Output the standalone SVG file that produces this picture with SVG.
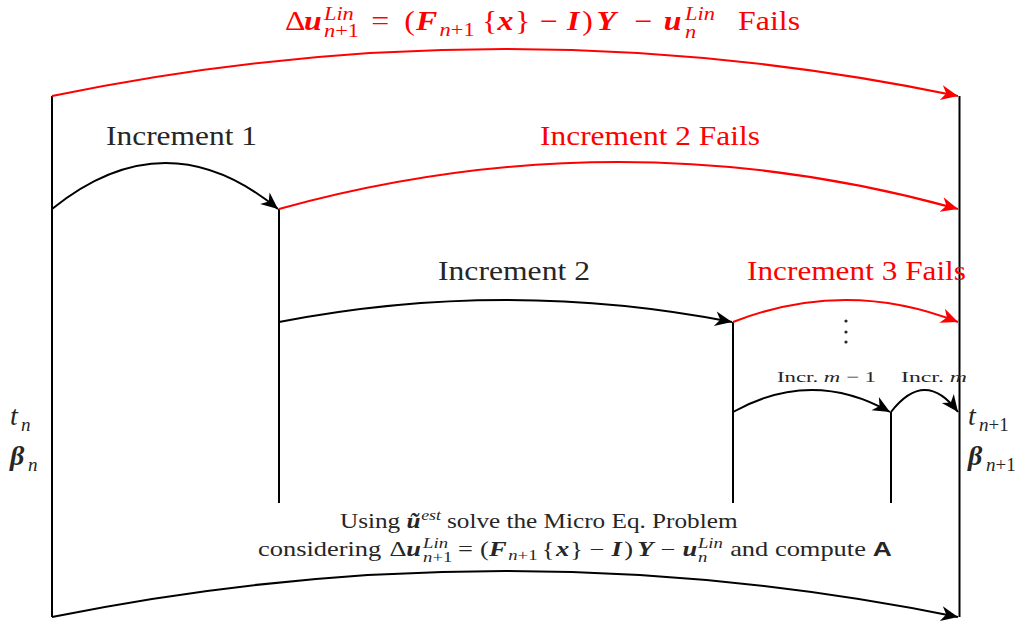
<svg xmlns="http://www.w3.org/2000/svg" width="1029" height="624" viewBox="0 0 1029 624">
<style>
.blk{fill:none;stroke:#000;stroke-width:2}
.red{fill:none;stroke:#f00;stroke-width:2}
.t{font-family:"Liberation Serif","DejaVu Serif",serif;fill:#262626}
.tr{font-family:"Liberation Serif","DejaVu Serif",serif;fill:#f00}
.bi{font-weight:bold;font-style:italic}
.i{font-style:italic}
.s{font-size:19px}
.ss{font-size:14.5px}
</style>
<defs>
<marker id="ab" markerUnits="userSpaceOnUse" markerWidth="20" markerHeight="20" viewBox="-18 -10 20 20" refX="0" refY="0" orient="auto">
<path d="M0,0 L-17,-7.5 L-12,0 L-17,7.5 Z" fill="#000"/>
</marker>
<marker id="ar" markerUnits="userSpaceOnUse" markerWidth="20" markerHeight="20" viewBox="-18 -10 20 20" refX="0" refY="0" orient="auto">
<path d="M0,0 L-17,-7.5 L-12,0 L-17,7.5 Z" fill="#f00"/>
</marker>
</defs>
<rect width="1029" height="624" fill="#fff"/>
<g id="connectors">
<path class="blk" d="M52,96 V617"/>
<path class="blk" d="M959.5,96 V617"/>
<path class="blk" d="M279,209 V503"/>
<path class="blk" d="M733,322 V503"/>
<path class="blk" d="M891,412 V503"/>
<path class="red" d="M52,96 Q505,2 958,96" marker-end="url(#ar)"/>
<path class="blk" d="M52,209 Q166,117 278,209" marker-end="url(#ab)"/>
<path class="red" d="M279,209 Q619,115 958,209" marker-end="url(#ar)"/>
<path class="blk" d="M279,322 Q506,278 732,322" marker-end="url(#ab)"/>
<path class="red" d="M733,322 Q846,278 958,322" marker-end="url(#ar)"/>
<path class="blk" d="M733,412 Q812,368 890,412" marker-end="url(#ab)"/>
<path class="blk" d="M891,412 Q925,368 958,412" marker-end="url(#ab)"/>
<path class="blk" d="M52,617 Q505,525 958,617" marker-end="url(#ab)"/>
</g>
<g id="top-label" transform="matrix(1.18,0,0,1,-51.3,0)">
<text class="tr" font-size="27" y="30"><tspan x="285">Δ</tspan><tspan x="301" class="bi">u</tspan><tspan x="318" y="20" class="i s">Lin</tspan><tspan x="318" y="37" class="s"><tspan class="i">n</tspan>+1</tspan><tspan x="358" y="30">=</tspan><tspan x="386">(</tspan><tspan x="396" class="bi">F</tspan><tspan x="416" y="36" class="s"><tspan class="i">n</tspan>+1</tspan><tspan x="452" y="30">{</tspan><tspan x="465" class="bi">x</tspan><tspan x="480">}</tspan><tspan x="501">−</tspan><tspan x="524" class="bi">I</tspan><tspan x="537">)</tspan><tspan x="549" class="bi">Y</tspan><tspan x="581">−</tspan><tspan x="606" class="bi">u</tspan><tspan x="624" y="38" class="i s">n</tspan><tspan x="624" y="20" class="i s">Lin</tspan><tspan x="669" y="30">Fails</tspan></text>
</g>
<g id="increment1"><text class="t" x="106" y="145" font-size="27" textLength="151" lengthAdjust="spacingAndGlyphs">Increment 1</text></g>
<g id="increment2fails"><text class="tr" x="540" y="145" font-size="27" textLength="220" lengthAdjust="spacingAndGlyphs">Increment 2 Fails</text></g>
<g id="increment2"><text class="t" x="438" y="280" font-size="27" textLength="152" lengthAdjust="spacingAndGlyphs">Increment 2</text></g>
<g id="increment3fails"><text class="tr" x="747" y="280" font-size="27" textLength="219" lengthAdjust="spacingAndGlyphs">Increment 3 Fails</text></g>
<g id="dots" fill="#262626">
<circle cx="846" cy="321" r="1.6"/><circle cx="846" cy="332" r="1.6"/><circle cx="846" cy="342" r="1.6"/>
</g>
<g id="incr-m-1"><text class="t" x="777" y="382" font-size="15" textLength="99" lengthAdjust="spacingAndGlyphs">Incr. <tspan class="i">m</tspan> − 1</text></g>
<g id="incr-m"><text class="t" x="901" y="382" font-size="15" textLength="66" lengthAdjust="spacingAndGlyphs">Incr. <tspan class="i">m</tspan></text></g>
<g id="left-state">
<text class="t" x="10" y="425" font-size="28"><tspan class="i">t</tspan><tspan class="i s" x="21" y="431">n</tspan></text>
<text class="t" x="10" y="465" font-size="28"><tspan class="bi">β</tspan><tspan class="i s" x="28" y="471">n</tspan></text>
</g>
<g id="right-state">
<text class="t" x="968" y="425" font-size="28"><tspan class="i">t</tspan><tspan class="s" x="979" y="431"><tspan class="i">n</tspan>+1</tspan></text>
<text class="t" x="968" y="465" font-size="28"><tspan class="bi">β</tspan><tspan class="s" x="986" y="471"><tspan class="i">n</tspan>+1</tspan></text>
</g>
<g id="bottom-label">
<g transform="matrix(1.23,0,0,1,-78.2,0)">
<text class="t" y="528" font-size="20.5"><tspan x="340">Using</tspan><tspan x="394" class="bi">ũ</tspan><tspan x="406" y="520" class="i ss">est</tspan><tspan x="427" y="528">solve the Micro Eq. Problem</tspan></text>
</g>
<g transform="matrix(1.29,0,0,1,-74.8,0)">
<text class="t" y="556" font-size="20.5"><tspan x="258">considering</tspan><tspan x="360">Δ</tspan><tspan x="373" class="bi">u</tspan><tspan x="386" y="548" class="i ss">Lin</tspan><tspan x="386" y="562" class="ss"><tspan class="i">n</tspan>+1</tspan><tspan x="413" y="556">=</tspan><tspan x="430">(</tspan><tspan x="437" class="bi">F</tspan><tspan x="452" y="560" class="ss"><tspan class="i">n</tspan>+1</tspan><tspan x="478" y="556">{</tspan><tspan x="489" class="bi">x</tspan><tspan x="500">}</tspan><tspan x="515">−</tspan><tspan x="532" class="bi">I</tspan><tspan x="542">)</tspan><tspan x="552" class="bi">Y</tspan><tspan x="570">−</tspan><tspan x="587" class="bi">u</tspan><tspan x="599" y="562" class="i ss">n</tspan><tspan x="599" y="548" class="i ss">Lin</tspan><tspan x="624" y="556">and compute</tspan><tspan x="734.5" font-family="Liberation Sans, Arial, sans-serif" font-weight="bold">A</tspan></text>
</g>
</g>
</svg>
